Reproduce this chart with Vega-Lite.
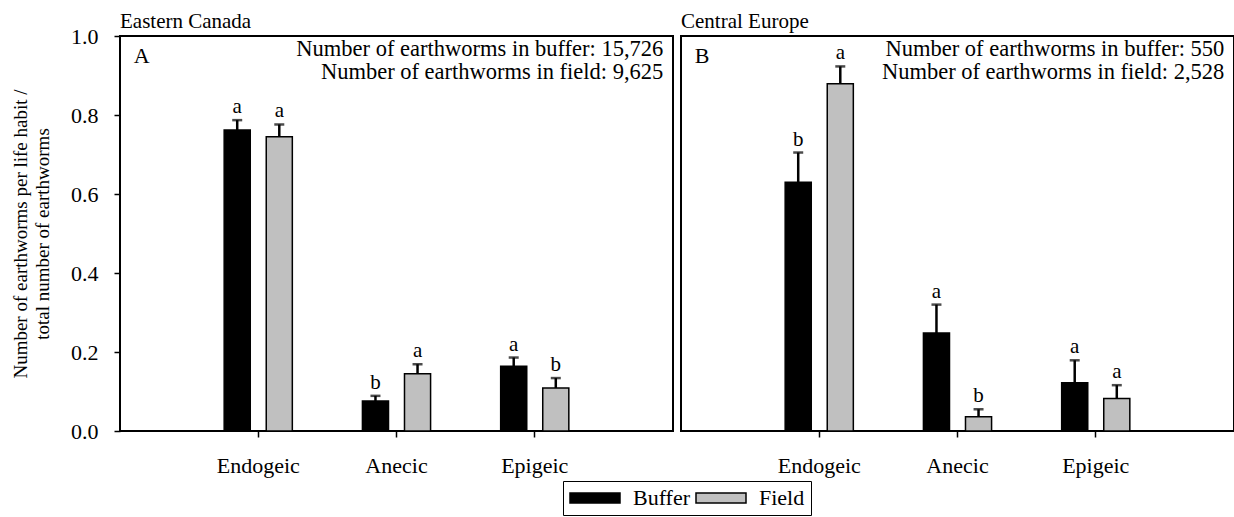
{
  "$schema": "https://vega.github.io/schema/vega-lite/v6.json",
  "padding": {"left": 10, "top": 10, "right": 2, "bottom": 0},
  "background": "white",
  "config": {
    "font": "Liberation Serif",
    "view": {"stroke": "black", "strokeWidth": 2},
    "axis": {
      "labelFont": "Liberation Serif", "titleFont": "Liberation Serif",
      "labelColor": "black", "titleColor": "black", "tickColor": "black",
      "domain": false, "grid": false, "labelFontSize": 22, "titleFontSize": 19,
      "titleFontWeight": "normal", "tickSize": 6, "tickWidth": 1.5
    },
    "legend": {"strokeColor": "black", "fillColor": "white"},
    "title": {"font": "Liberation Serif", "fontSize": 21, "fontWeight": "normal", "anchor": "start", "color": "black", "offset": 4, "frame": "group"},
    "text": {"font": "Liberation Serif", "color": "black"}
  },
  "datasets": {
    "bars": [
      {"region": "Eastern Canada", "habit": "Endogeic", "group": "Buffer", "mean": 0.762, "upper": 0.787, "letter": "a"},
      {"region": "Eastern Canada", "habit": "Endogeic", "group": "Field", "mean": 0.745, "upper": 0.776, "letter": "a"},
      {"region": "Eastern Canada", "habit": "Anecic", "group": "Buffer", "mean": 0.076, "upper": 0.089, "letter": "b"},
      {"region": "Eastern Canada", "habit": "Anecic", "group": "Field", "mean": 0.145, "upper": 0.169, "letter": "a"},
      {"region": "Eastern Canada", "habit": "Epigeic", "group": "Buffer", "mean": 0.164, "upper": 0.186, "letter": "a"},
      {"region": "Eastern Canada", "habit": "Epigeic", "group": "Field", "mean": 0.109, "upper": 0.134, "letter": "b"},
      {"region": "Central Europe", "habit": "Endogeic", "group": "Buffer", "mean": 0.630, "upper": 0.705, "letter": "b"},
      {"region": "Central Europe", "habit": "Endogeic", "group": "Field", "mean": 0.879, "upper": 0.923, "letter": "a"},
      {"region": "Central Europe", "habit": "Anecic", "group": "Buffer", "mean": 0.248, "upper": 0.320, "letter": "a"},
      {"region": "Central Europe", "habit": "Anecic", "group": "Field", "mean": 0.036, "upper": 0.055, "letter": "b"},
      {"region": "Central Europe", "habit": "Epigeic", "group": "Buffer", "mean": 0.122, "upper": 0.179, "letter": "a"},
      {"region": "Central Europe", "habit": "Epigeic", "group": "Field", "mean": 0.082, "upper": 0.116, "letter": "a"}
    ],
    "notes": [
      {"region": "Eastern Canada", "panel": "A", "buffer_line": "Number of earthworms in buffer: 15,726", "field_line": "Number of earthworms in field: 9,625"},
      {"region": "Central Europe", "panel": "B", "buffer_line": "Number of earthworms in buffer: 550", "field_line": "Number of earthworms in field: 2,528"}
    ]
  },
  "spacing": 6,
  "hconcat": [
    {
      "width": 553, "height": 395,
      "title": {"text": "Eastern Canada", "font": "Liberation Serif", "fontSize": 21, "fontWeight": "normal", "anchor": "start", "color": "black", "offset": -7, "frame": "group"},
      "layer": [
        {
          "data": {"name": "bars"},
          "transform": [{"filter": "datum.region === 'Eastern Canada'"}],
          "encoding": {
            "x": {"field": "habit", "type": "nominal", "sort": ["Endogeic", "Anecic", "Epigeic"],
                  "scale": {"paddingInner": 0.507, "paddingOuter": 0.7535},
                  "axis": {"title": null, "labelAngle": 0, "labelPadding": 18, "ticks": true,
                           "labelFont": "Liberation Serif", "labelFontSize": 22, "labelColor": "black", "tickColor": "black", "tickSize": 6}},
            "xOffset": {"field": "group", "type": "nominal", "sort": ["Buffer", "Field"], "scale": {"paddingInner": 0.38, "paddingOuter": 0}}
          },
          "layer": [
            {
              "mark": {"type": "bar", "stroke": "black", "strokeWidth": 1.5},
              "encoding": {
                "y": {"field": "mean", "type": "quantitative", "scale": {"domain": [0, 1], "nice": false},
                      "axis": {"values": [0, 0.2, 0.4, 0.6, 0.8, 1.0], "format": ".1f", "labelPadding": 16,
                               "labelFont": "Liberation Serif", "labelFontSize": 22, "labelColor": "black",
                               "title": ["Number of earthworms per life habit /", "total number of earthworms"],
                               "titleFont": "Liberation Serif", "titleFontSize": 19, "titleFontWeight": "normal", "titleColor": "black",
                               "titlePadding": 18, "titleLineHeight": 22, "tickColor": "black", "tickSize": 6}},
                "color": {"field": "group", "type": "nominal", "scale": {"domain": ["Buffer", "Field"], "range": ["#000000", "#c0c0c0"]},
                          "legend": {"orient": "none", "legendX": 443, "legendY": 445, "direction": "horizontal", "title": null,
                                     "symbolType": "M-1,-0.5H4V0.5H-1Z", "symbolSize": 400, "symbolStrokeColor": "black",
                                     "labelFontSize": 22, "labelFont": "Liberation Serif", "labelColor": "black", "labelOffset": 42, "columnPadding": 2,
                                     "padding": 6}}
              }
            },
            {
              "mark": {"type": "rule", "color": "black", "strokeWidth": 2.5},
              "encoding": {"y": {"field": "mean", "type": "quantitative"}, "y2": {"field": "upper"}}
            },
            {
              "mark": {"type": "tick", "orient": "horizontal", "color": "black", "size": 10, "thickness": 2.5},
              "encoding": {"y": {"field": "upper", "type": "quantitative"}}
            },
            {
              "mark": {"type": "text", "baseline": "bottom", "dy": -3, "fontSize": 21, "font": "Liberation Serif"},
              "encoding": {"y": {"field": "upper", "type": "quantitative"}, "text": {"field": "letter"}}
            }
          ]
        },
        {
          "data": {"name": "notes"},
          "transform": [{"filter": "datum.region === 'Eastern Canada'"}],
          "layer": [
            {
              "mark": {"type": "text", "align": "left", "baseline": "middle", "fontSize": 22, "font": "Liberation Serif"},
              "encoding": {"x": {"datum": 0.1, "type": "quantitative", "scale": {"domain": [0, 4], "nice": false, "zero": false}, "axis": null},
                           "y": {"datum": 0.949, "type": "quantitative"}, "text": {"field": "panel"}}
            },
            {
              "mark": {"type": "text", "align": "right", "baseline": "middle", "fontSize": 22.5, "font": "Liberation Serif"},
              "encoding": {"x": {"datum": 3.93, "type": "quantitative", "scale": {"domain": [0, 4], "nice": false, "zero": false}, "axis": null},
                           "y": {"datum": 0.967, "type": "quantitative"}, "text": {"field": "buffer_line"}}
            },
            {
              "mark": {"type": "text", "align": "right", "baseline": "middle", "fontSize": 22.5, "font": "Liberation Serif"},
              "encoding": {"x": {"datum": 3.93, "type": "quantitative", "scale": {"domain": [0, 4], "nice": false, "zero": false}, "axis": null},
                           "y": {"datum": 0.909, "type": "quantitative"}, "text": {"field": "field_line"}}
            }
          ]
        }
      ],
      "resolve": {"scale": {"x": "independent"}, "axis": {"x": "independent"}}
    },
    {
      "width": 553, "height": 395,
      "title": {"text": "Central Europe", "font": "Liberation Serif", "fontSize": 21, "fontWeight": "normal", "anchor": "start", "color": "black", "offset": 4, "frame": "group"},
      "layer": [
        {
          "data": {"name": "bars"},
          "transform": [{"filter": "datum.region === 'Central Europe'"}],
          "encoding": {
            "x": {"field": "habit", "type": "nominal", "sort": ["Endogeic", "Anecic", "Epigeic"],
                  "scale": {"paddingInner": 0.507, "paddingOuter": 0.7535},
                  "axis": {"title": null, "labelAngle": 0, "labelPadding": 18, "ticks": true,
                           "labelFont": "Liberation Serif", "labelFontSize": 22, "labelColor": "black", "tickColor": "black", "tickSize": 6}},
            "xOffset": {"field": "group", "type": "nominal", "sort": ["Buffer", "Field"], "scale": {"paddingInner": 0.38, "paddingOuter": 0}}
          },
          "layer": [
            {
              "mark": {"type": "bar", "stroke": "black", "strokeWidth": 1.5},
              "encoding": {
                "y": {"field": "mean", "type": "quantitative", "scale": {"domain": [0, 1], "nice": false}, "axis": null},
                "color": {"field": "group", "type": "nominal", "scale": {"domain": ["Buffer", "Field"], "range": ["#000000", "#c0c0c0"]}, "legend": null}
              }
            },
            {
              "mark": {"type": "rule", "color": "black", "strokeWidth": 2.5},
              "encoding": {"y": {"field": "mean", "type": "quantitative"}, "y2": {"field": "upper"}}
            },
            {
              "mark": {"type": "tick", "orient": "horizontal", "color": "black", "size": 10, "thickness": 2.5},
              "encoding": {"y": {"field": "upper", "type": "quantitative"}}
            },
            {
              "mark": {"type": "text", "baseline": "bottom", "dy": -3, "fontSize": 21, "font": "Liberation Serif"},
              "encoding": {"y": {"field": "upper", "type": "quantitative"}, "text": {"field": "letter"}}
            }
          ]
        },
        {
          "data": {"name": "notes"},
          "transform": [{"filter": "datum.region === 'Central Europe'"}],
          "layer": [
            {
              "mark": {"type": "text", "align": "left", "baseline": "middle", "fontSize": 22, "font": "Liberation Serif"},
              "encoding": {"x": {"datum": 0.1, "type": "quantitative", "scale": {"domain": [0, 4], "nice": false, "zero": false}, "axis": null},
                           "y": {"datum": 0.949, "type": "quantitative"}, "text": {"field": "panel"}}
            },
            {
              "mark": {"type": "text", "align": "right", "baseline": "middle", "fontSize": 22.5, "font": "Liberation Serif"},
              "encoding": {"x": {"datum": 3.93, "type": "quantitative", "scale": {"domain": [0, 4], "nice": false, "zero": false}, "axis": null},
                           "y": {"datum": 0.967, "type": "quantitative"}, "text": {"field": "buffer_line"}}
            },
            {
              "mark": {"type": "text", "align": "right", "baseline": "middle", "fontSize": 22.5, "font": "Liberation Serif"},
              "encoding": {"x": {"datum": 3.93, "type": "quantitative", "scale": {"domain": [0, 4], "nice": false, "zero": false}, "axis": null},
                           "y": {"datum": 0.909, "type": "quantitative"}, "text": {"field": "field_line"}}
            }
          ]
        }
      ],
      "resolve": {"scale": {"x": "independent"}, "axis": {"x": "independent"}}
    }
  ]
}
